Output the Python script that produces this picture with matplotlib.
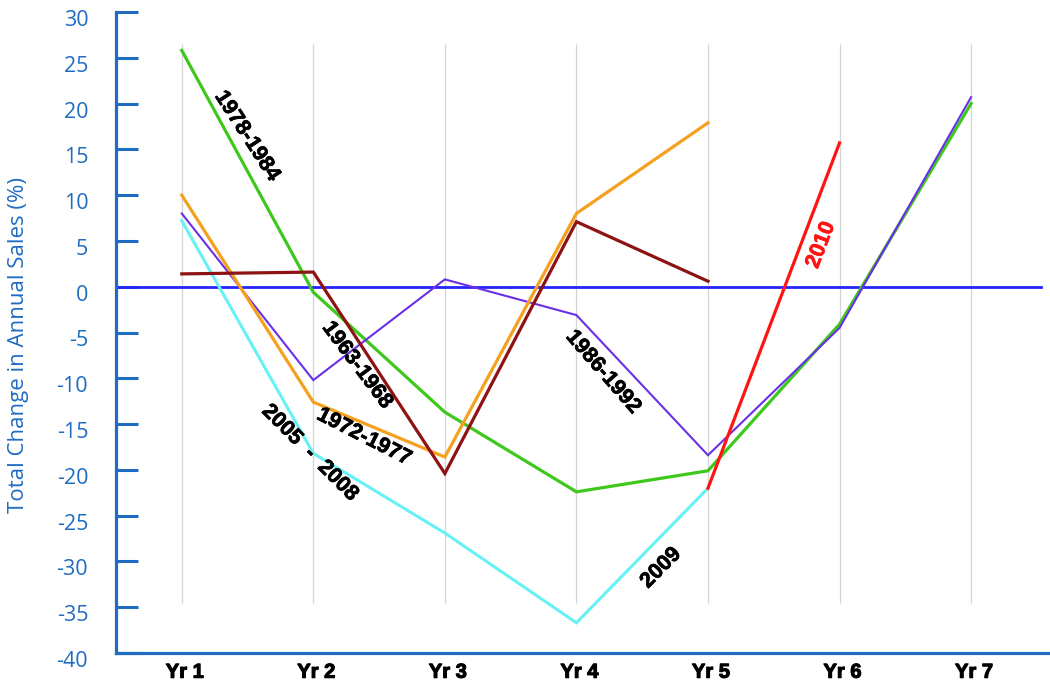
import numpy as np
import matplotlib
matplotlib.use("Agg")
import matplotlib.pyplot as plt
from matplotlib import transforms
import matplotlib.patheffects as pe

# Categories (years into each recovery cycle)
years = ["Yr 1", "Yr 2", "Yr 3", "Yr 4", "Yr 5", "Yr 6", "Yr 7"]

# Total change in annual sales (%) per cycle
s_1978_1984 = [25.8, -0.6, -13.7, -22.4, -20.1, -4.1, 20.0]
s_1972_1977 = [10.0, -12.6, -18.6, 8.0, 17.9]
s_1963_1968 = [1.4, 1.6, -20.4, 7.1, 0.6]
s_1986_1992 = [8.0, -10.2, 0.8, -3.1, -18.4, -4.5, 20.7]
s_2005_2009 = [7.2, -18.2, -26.9, -36.7, -22.0]
s_2010 = [-22.0, 15.7]
s_2010_start = 4  # the 2010 segment begins at Yr 5

y_ticks = list(range(-40, 31, 5))

AXIS_BLUE = "#1f6cc2"

fig = plt.figure(figsize=(10.5, 6.81), dpi=100)
ax = fig.add_axes([116 / 1050, 28 / 681, 1 - 116 / 1050, 641 / 681])
ax.set_xlim(-0.5, 6.6)
ax.set_ylim(-40, 30)

# vertical guides at each year
ax.vlines(range(len(years)), -34.5, 26.5, color="#d4d4d4", lw=0.9, zorder=1)

# zero reference line
ax.axhline(0, xmin=0, xmax=0.99, color="#2424ff", lw=2.0, zorder=2)

def plot_series(vals, color, lw, z, start=0):
    x = np.arange(start, start + len(vals))
    ax.plot(x, vals, color=color, lw=lw, zorder=z, solid_joinstyle="miter")

plot_series(s_2005_2009, "#66f2f4", 2.2, 3)
plot_series(s_1978_1984, "#3ec81c", 2.3, 4)
plot_series(s_1986_1992, "#6a2fe6", 1.5, 5)
plot_series(s_1972_1977, "#f5a11e", 2.3, 6)
plot_series(s_1963_1968, "#8e1212", 2.3, 7)
plot_series(s_2010, "#ff1414", 2.3, 8, start=s_2010_start)

# spines and ticks
for side in ("top", "right"):
    ax.spines[side].set_visible(False)
for side in ("left", "bottom"):
    ax.spines[side].set_color(AXIS_BLUE)
    ax.spines[side].set_linewidth(2.3)

ax.set_yticks(y_ticks)
ax.set_yticklabels([str(v) for v in y_ticks])
ax.tick_params(axis="y", direction="in", length=16, width=2.2, color=AXIS_BLUE,
               labelcolor=AXIS_BLUE, labelsize=15.5, pad=20)
for lab in ax.get_yticklabels():
    lab.set_fontfamily("Open Sans")
    lab.set_transform(lab.get_transform() +
                      transforms.ScaledTranslation(0, -6 / 100, fig.dpi_scale_trans))

ax.set_xticks(range(len(years)))
ax.set_xticklabels(years)
ax.tick_params(axis="x", length=0, pad=7, labelsize=14.5)
for lab in ax.get_xticklabels():
    lab.set_fontfamily("Liberation Sans")
    lab.set_fontweight("bold")
    lab.set_path_effects([pe.withStroke(linewidth=0.8, foreground="black")])
    lab.set_transform(lab.get_transform() +
                      transforms.ScaledTranslation(3 / 100, 0, fig.dpi_scale_trans))

fig.text(19 / 1050, 1 - 345 / 681, "Total Change in Annual Sales (%)",
         rotation=90, ha="center", va="center", color=AXIS_BLUE,
         fontsize=16, family="Open Sans")

# series labels along the lines
def label(x_px, y_px, text, rot, color="black"):
    fig.text(x_px / 1050, 1 - y_px / 681, text, rotation=rot,
             rotation_mode="anchor", ha="center", va="center",
             color=color, fontsize=15.5, fontweight="bold",
             family="Liberation Sans",
             path_effects=[pe.withStroke(linewidth=0.5, foreground=color)])

label(247, 136, "1978-1984", -57)
label(357, 365, "1963-1968", -53)
label(364, 437, "1972-1977", -27)
label(310, 453, "2005  -  2008", -45)
label(603, 372, "1986-1992", -49)
label(661, 568, "2009", 45)
label(821, 245, "2010", 69, color="#ff1414")

fig.savefig("out.png", dpi=100)
